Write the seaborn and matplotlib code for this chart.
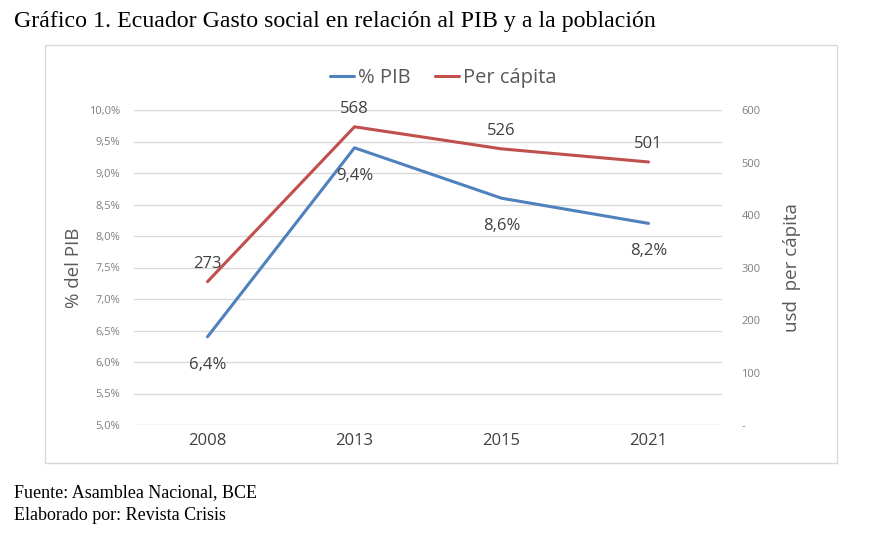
import matplotlib
matplotlib.use("Agg")
import matplotlib.pyplot as plt
import seaborn as sns
import pandas as pd
from matplotlib.lines import Line2D
from matplotlib.patches import Rectangle

years = ["2008", "2013", "2015", "2021"]
pib_pct = [6.4, 9.4, 8.6, 8.2]
per_capita = [273, 568, 526, 501]
pib_labels = ["6,4%", "9,4%", "8,6%", "8,2%"]
left_ticks = [5.0, 5.5, 6.0, 6.5, 7.0, 7.5, 8.0, 8.5, 9.0, 9.5, 10.0]
left_tick_labels = ["5,0%", "5,5%", "6,0%", "6,5%", "7,0%", "7,5%", "8,0%", "8,5%", "9,0%", "9,5%", "10,0%"]
right_ticks = [0, 100, 200, 300, 400, 500, 600]
right_tick_labels = ["-", "100", "200", "300", "400", "500", "600"]

sns.set_theme(style="white")
plt.rcParams["font.family"] = ["Open Sans", "DejaVu Sans"]

BLUE = "#4f81bd"
RED = "#c0504d"
GRAY = "#595959"
DARK = "#404040"

df = pd.DataFrame({"year": years, "pib": pib_pct, "pc": per_capita})
df["x"] = range(len(years))

W, H = 870, 538
fig = plt.figure(figsize=(W / 100, H / 100), dpi=100)

# Chart border box
fig.patches.append(Rectangle((45 / W, 1 - 463 / H), (837 - 45) / W, (463 - 45) / H,
                             transform=fig.transFigure, fill=False, edgecolor="#d9d9d9", lw=1))

ax = fig.add_axes([134 / W, 1 - 425 / H, (722 - 134) / W, (425 - 110) / H])
ax2 = ax.twinx()

sns.lineplot(data=df, x="x", y="pib", ax=ax, color=BLUE, lw=2.2)
sns.lineplot(data=df, x="x", y="pc", ax=ax2, color=RED, lw=2.2)

ax.set_xlim(-0.5, len(years) - 0.5)
ax.set_ylim(5.0, 10.0)
ax2.set_ylim(0, 600)
ax.set_xticks(range(len(years)))
ax.set_xticklabels(years, fontsize=12, color=DARK)
ax.set_yticks(left_ticks)
ax.set_yticklabels(left_tick_labels, fontsize=8, color="#7f7f7f")
ax2.set_yticks(right_ticks)
ax2.set_yticklabels(right_tick_labels, fontsize=8, color="#7f7f7f")
ax.tick_params(axis="y", length=0, pad=10)
ax.tick_params(axis="x", length=0, pad=6)
ax2.tick_params(axis="y", length=0, pad=14)
ax.grid(axis="y", color="#d9d9d9", lw=1)
ax.set_axisbelow(True)
for a in (ax, ax2):
    for s in a.spines.values():
        s.set_visible(False)
ax.patch.set_alpha(0)
ax.set_xlabel("")
ax.set_ylabel("% del PIB", fontsize=13.5, color=GRAY, labelpad=4)
ax2.set_ylabel("usd  per cápita", fontsize=13.5, color=GRAY, labelpad=16)

for i in range(len(years)):
    ax.annotate(pib_labels[i], (i, pib_pct[i]), xytext=(0, -20), textcoords="offset points",
                ha="center", va="center", fontsize=12, color=DARK)
    ax2.annotate(str(per_capita[i]), (i, per_capita[i]), xytext=(0, 13), textcoords="offset points",
                 ha="center", va="center", fontsize=12, color=DARK)

handles = [Line2D([], [], color=BLUE, lw=2.2), Line2D([], [], color=RED, lw=2.2)]
fig.legend(handles, ["% PIB", "Per cápita"], loc="center", bbox_to_anchor=(443 / W, 1 - 78 / H),
           ncol=2, frameon=False, fontsize=14.5, labelcolor=GRAY, handlelength=1.2,
           handletextpad=0.2, columnspacing=1.2)

fig.text(14 / W, 1 - 22 / H, "Gráfico 1. Ecuador Gasto social en relación al PIB y a la población",
         fontsize=17.2, family=["Liberation Serif"], color="black", va="center", ha="left")
fig.text(14 / W, 1 - 493 / H, "Fuente: Asamblea Nacional, BCE",
         fontsize=13, family=["Liberation Serif"], color="black", va="center", ha="left")
fig.text(14 / W, 1 - 515 / H, "Elaborado por: Revista Crisis",
         fontsize=13, family=["Liberation Serif"], color="black", va="center", ha="left")

fig.savefig("out.png", dpi=100, facecolor="white")
